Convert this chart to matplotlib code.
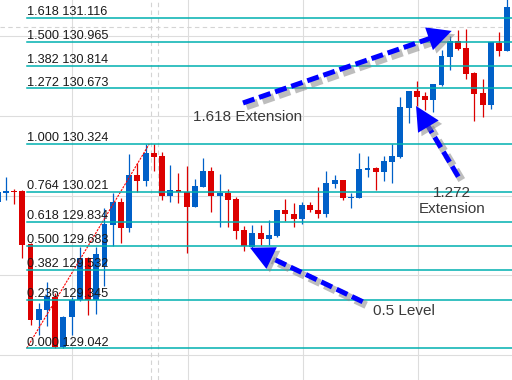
import numpy as np
import matplotlib
matplotlib.use("Agg")
import matplotlib.pyplot as plt
import matplotlib.patheffects as pe
from matplotlib.patches import Polygon

plt.rcParams['font.family'] = ['Liberation Sans', 'DejaVu Sans']

# candle data (USDJPY-like, one value per bar)
opens = [129.960, 130.018, 130.029, 130.029, 129.696, 129.220, 129.282, 129.366, 129.052, 129.240,
         129.345, 129.610, 129.345, 129.558, 129.816, 129.962, 129.799, 130.129, 130.094, 130.265,
         130.248, 129.999, 130.035, 130.021, 129.930, 130.056, 130.154, 129.999, 130.018, 129.979,
         129.784, 129.679, 129.764, 129.728, 129.747, 129.909, 129.885, 129.853, 129.941, 129.909,
         129.885, 130.073, 130.098, 129.983, 129.987, 130.161, 130.175, 130.150, 130.213, 130.244,
         130.552, 130.656, 130.625, 130.600, 130.694, 130.872, 130.970, 130.924, 130.771, 130.642,
         130.569, 130.959, 130.909]
highs = [130.041, 130.119, 130.040, 130.035, 129.700, 129.328, 129.460, 129.387, 129.242, 129.366,
         129.679, 129.612, 129.679, 129.920, 130.014, 129.983, 130.261, 130.203, 130.324, 130.322,
         130.272, 130.192, 130.140, 130.186, 130.102, 130.236, 130.181, 130.136, 130.041, 129.991,
         129.809, 129.816, 129.816, 129.847, 129.910, 129.977, 129.956, 129.958, 129.958, 130.056,
         130.154, 130.129, 130.100, 130.014, 130.269, 130.248, 130.177, 130.248, 130.324, 130.621,
         130.658, 130.721, 130.652, 130.702, 130.914, 131.001, 131.039, 131.043, 130.773, 130.730,
         130.964, 131.028, 131.259]
lows = [129.954, 129.972, 129.947, 129.609, 129.188, 129.125, 129.182, 129.042, 129.044, 129.125,
        129.340, 129.251, 129.255, 129.435, 129.684, 129.703, 129.774, 130.025, 130.062, 130.156,
        129.972, 129.962, 129.952, 129.642, 129.928, 130.052, 129.899, 129.805, 129.805, 129.728,
        129.654, 129.671, 129.690, 129.690, 129.740, 129.843, 129.805, 129.820, 129.897, 129.860,
        129.864, 130.046, 129.972, 129.920, 129.985, 130.119, 130.035, 130.094, 130.081, 130.238,
        130.454, 130.562, 130.537, 130.526, 130.688, 130.788, 130.914, 130.732, 130.470, 130.491,
        130.543, 130.878, 130.907]
closes = [130.023, 130.029, 130.021, 129.690, 129.220, 129.289, 129.370, 129.052, 129.240, 129.345,
          129.610, 129.345, 129.632, 129.822, 129.962, 129.799, 130.129, 130.092, 130.269, 130.244,
          129.999, 130.035, 130.023, 129.930, 130.060, 130.154, 129.999, 130.018, 129.972, 129.778,
          129.686, 129.764, 129.728, 129.753, 129.909, 129.883, 129.856, 129.941, 129.909, 129.885,
          130.077, 130.098, 129.983, 129.993, 130.167, 130.175, 130.150, 130.217, 130.248, 130.558,
          130.656, 130.621, 130.600, 130.700, 130.876, 130.970, 130.920, 130.765, 130.638, 130.569,
          130.962, 130.909, 131.181]

# fibonacci object
fib_ratios = ["0.000", "0.236", "0.382", "0.500", "0.618", "0.764", "1.000",
              "1.272", "1.382", "1.500", "1.618"]
fib_prices = [129.042, 129.345, 129.532, 129.683, 129.834, 130.021, 130.324,
              130.673, 130.814, 130.965, 131.116]
fib_start = (3.535, 129.042)
fib_end = (18.45, 130.324)

grid_x = [9.05, 23.1, 37.1, 51.1]
grid_y = [129.0, 129.5, 130.0, 130.5, 131.0]

BLUE = '#0060c8'
RED = '#dc0000'
TEAL = '#00b0b0'

fig = plt.figure(figsize=(5.12, 3.80), dpi=100)
ax = fig.add_axes([0, 0, 1, 1])
ax.set_axis_off()
ax.set_xlim(0.287, 62.575)
ax.set_ylim(128.843, 131.227)

# grid
for gx in grid_x:
    ax.axvline(gx, color='#dddddd', lw=0.8, zorder=0)
for gy in grid_y:
    ax.axhline(gy, color='#dddddd', lw=0.8, zorder=0)
ax.axvline(18.62, color='#d4d4d4', lw=0.8, ls=(0, (4, 3)), zorder=0)
ax.axvline(19.51, color='#d4d4d4', lw=0.8, ls=(0, (4, 3)), zorder=0)
ax.axhline(131.056, color='#d4d4d4', lw=0.8, ls=(0, (4, 3)), zorder=0)

# candles
o = np.array(opens)
c = np.array(closes)
x = np.arange(len(o))
cols = [BLUE if cc >= oo else RED for oo, cc in zip(o, c)]
ax.vlines(x, lows, highs, colors=cols, lw=0.9, zorder=2)
ax.bar(x, c - o, bottom=o, width=0.72, color=cols, edgecolor='none', zorder=3)

# fib lines + labels
ax.plot([fib_start[0], fib_end[0]], [fib_start[1], fib_end[1]], color='red', lw=0.8,
        ls=(0, (2, 1)), zorder=4)
for r, pr in zip(fib_ratios, fib_prices):
    ax.plot([fib_start[0], 70], [pr, pr], color=TEAL, lw=1.1, zorder=4)
    ax.annotate(f"{r} {pr:.3f}", (fib_start[0], pr), xytext=(0, 2), textcoords='offset points',
                ha='left', va='baseline', fontsize=9.2, color='#1a1a1a', zorder=5)


def draw_arrow(tail, tip, head=24):
    tr = ax.transData
    p0 = tr.transform(tail)
    p1 = tr.transform(tip)
    d = p1 - p0
    u = d / np.hypot(*d)
    n = np.array([-u[1], u[0]])
    base = p1 - u * head
    verts = tr.inverted().transform([p1, base + n * head / 2, base - n * head / 2])
    shaft = tr.inverted().transform([p0, base + u * 3])
    shadow = [pe.SimpleLineShadow(offset=(2.5, -2.5), shadow_color='#888888', alpha=0.55,
                                  linewidth=5.5), pe.Normal()]
    ax.plot(shaft[:, 0], shaft[:, 1], color='#0000ff', lw=3.6, dashes=(2.4, 1.0),
            solid_capstyle='butt', path_effects=shadow, zorder=6)
    ax.add_patch(Polygon(verts, closed=True, fc='#0000ff', ec='none', zorder=7,
                         path_effects=[pe.SimplePatchShadow(offset=(2.5, -2.5),
                                                            shadow_rgbFace='#888888', alpha=0.55),
                                       pe.Normal()]))


draw_arrow((29.85, 130.581), (55.24, 131.033))
draw_arrow((56.04, 130.119), (50.90, 130.562))
draw_arrow((44.41, 129.334), (30.70, 129.673))

ax.text(23.73, 130.496, "1.618 Extension", fontsize=11, color='#3a3a3a', ha='left', va='center', zorder=8)
ax.text(55.27, 129.966, "1.272\nExtension", fontsize=11, color='#3a3a3a', ha='center', va='center',
        multialignment='center', linespacing=1.25, zorder=8)
ax.text(49.38, 129.276, "0.5 Level", fontsize=11, color='#3a3a3a', ha='center', va='center', zorder=8)

fig.savefig("out.png", dpi=100)
